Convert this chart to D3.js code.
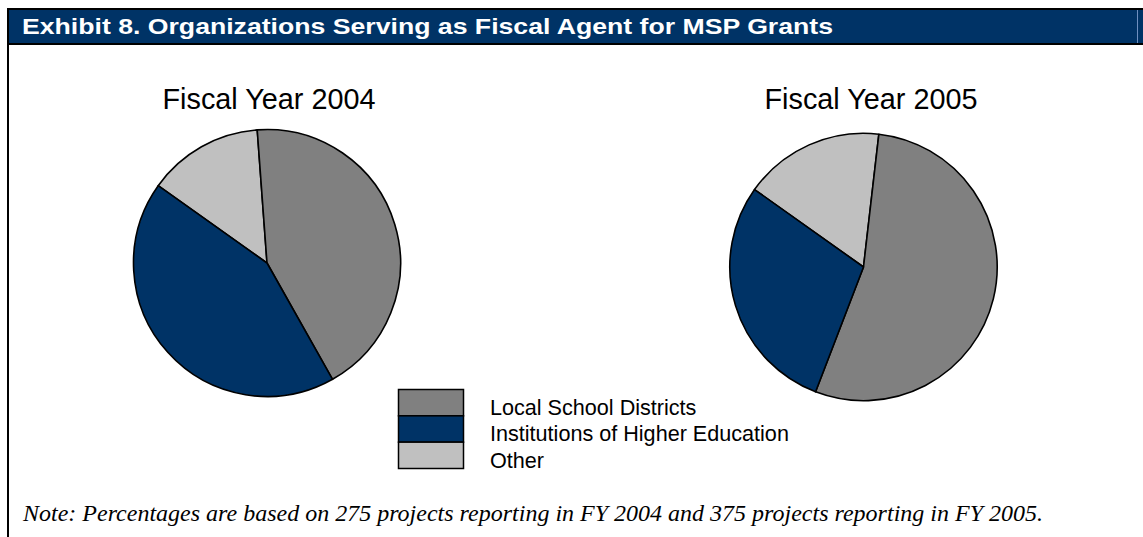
<!DOCTYPE html>
<html>
<head>
<meta charset="utf-8">
<script src="https://cdn.jsdelivr.net/npm/d3@7"></script>
<style>
  html, body { margin: 0; padding: 0; background: #fff; }
  svg { display: block; }
</style>
</head>
<body>
<svg id="chart" width="1143" height="537"></svg>
<script>
// ---- data ----
const categories = ["Local School Districts", "Institutions of Higher Education", "Other"];
const fy2004 = [43, 43, 14];   // percent
const fy2005 = [54, 29, 17];   // percent
const pieTitles = ["Fiscal Year 2004", "Fiscal Year 2005"];
const titleText = "Exhibit 8. Organizations Serving as Fiscal Agent for MSP Grants";
const noteText = "Note: Percentages are based on 275 projects reporting in FY 2004 and 375 projects reporting in FY 2005.";

// ---- style ----
const colors = d3.scaleOrdinal().domain(categories).range(["#808080", "#003366", "#C0C0C0"]);
const drawOrder = [2, 0, 1]; // slices drawn clockwise starting with "Other"
const firstSliceAngle = 305.4 * Math.PI / 180;

const svg = d3.select("#chart");

// title bar
svg.append("rect").attr("x", 7).attr("y", 8).attr("width", 1136).attr("height", 37).attr("fill", "#000");
svg.append("rect").attr("x", 8).attr("y", 10).attr("width", 1135).attr("height", 33).attr("fill", "#003366");
svg.append("rect").attr("x", 1137).attr("y", 10).attr("width", 1).attr("height", 33).attr("fill", "#6f8fc0");
svg.append("text")
  .attr("x", 22).attr("y", 34)
  .attr("font-family", "Liberation Sans, Arial, sans-serif")
  .attr("font-weight", "bold")
  .attr("font-size", 22.5)
  .attr("textLength", 811)
  .attr("lengthAdjust", "spacingAndGlyphs")
  .attr("fill", "#fff")
  .text(titleText);

// left border
svg.append("rect").attr("x", 7).attr("y", 8).attr("width", 2).attr("height", 529).attr("fill", "#000");

// pies
const pies = [
  { values: fy2004, cx: 267, cy: 263, r: 133.5, title: pieTitles[0], tx: 269 },
  { values: fy2005, cx: 863.5, cy: 267, r: 133.7, title: pieTitles[1], tx: 871 }
];

const pie = d3.pie()
  .sort(null)
  .value(d => d.v)
  .startAngle(firstSliceAngle)
  .endAngle(firstSliceAngle + 2 * Math.PI);

pies.forEach(p => {
  const data = drawOrder.map(i => ({ cat: categories[i], v: p.values[i] }));
  const arc = d3.arc().innerRadius(0).outerRadius(p.r);
  const g = svg.append("g").attr("transform", `translate(${p.cx},${p.cy})`);
  g.selectAll("path")
    .data(pie(data))
    .join("path")
    .attr("d", arc)
    .attr("fill", d => colors(d.data.cat))
    .attr("stroke", "#000")
    .attr("stroke-width", 1.6)
    .attr("stroke-linejoin", "round");
  svg.append("text")
    .attr("x", p.tx).attr("y", 109)
    .attr("text-anchor", "middle")
    .attr("font-family", "Liberation Sans, Arial, sans-serif")
    .attr("font-size", 28.8)
    .attr("fill", "#000")
    .text(p.title);
});

// legend
const legend = svg.append("g");
const boxY = d3.scaleBand().domain(categories).range([389.5, 468.5]);
categories.forEach(c => {
  legend.append("rect")
    .attr("x", 398.5).attr("y", boxY(c))
    .attr("width", 65).attr("height", boxY.bandwidth())
    .attr("fill", colors(c))
    .attr("stroke", "#000").attr("stroke-width", 1.5);
  legend.append("text")
    .attr("x", 490).attr("y", boxY(c) + 25.5)
    .attr("font-family", "Liberation Sans, Arial, sans-serif")
    .attr("font-size", 21.6)
    .attr("fill", "#000")
    .text(c);
});

// note
svg.append("text")
  .attr("x", 23).attr("y", 521)
  .attr("font-family", "Liberation Serif, Times New Roman, serif")
  .attr("font-style", "italic")
  .attr("font-size", 23.5)
  .attr("textLength", 1020)
  .attr("lengthAdjust", "spacingAndGlyphs")
  .attr("fill", "#000")
  .text(noteText);
</script>
</body>
</html>
